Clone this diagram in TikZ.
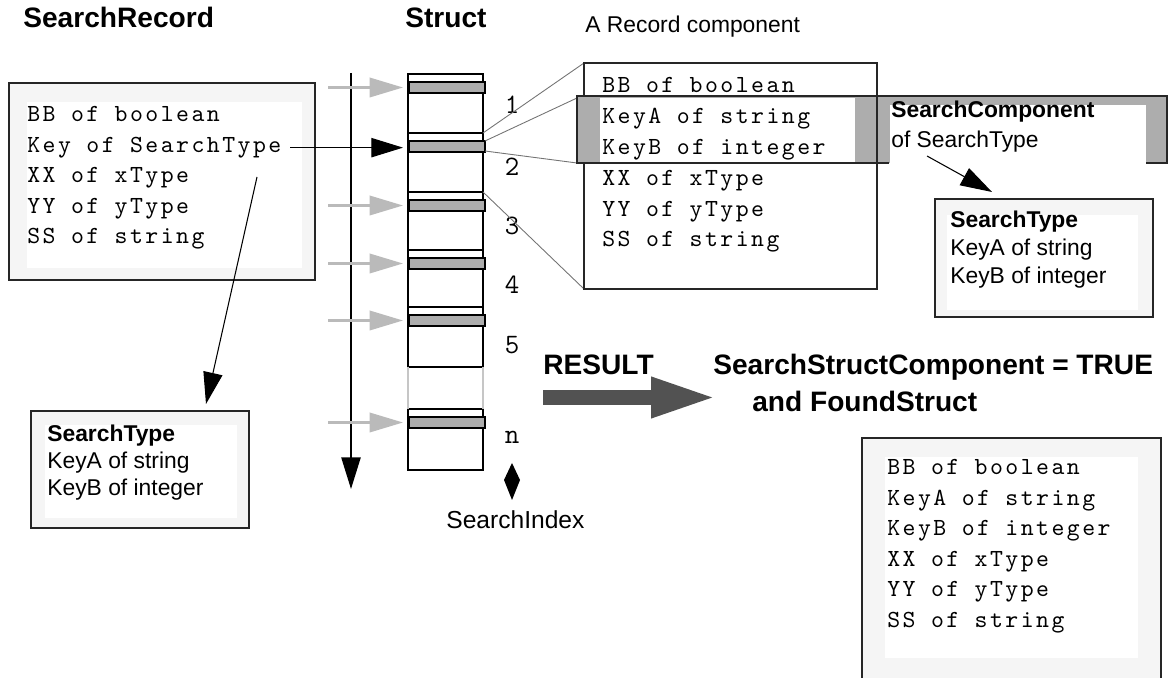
\documentclass[tikz,border=0pt]{standalone}
\usepackage{fontspec}
\setmainfont{Liberation Sans}
\newfontfamily\codefam{lmmono10-regular.otf}[LetterSpace=10]
\usepackage{tikz}
\usetikzlibrary{arrows.meta}

\newcommand\codefont{\codefam\fontsize{14}{16}\selectfont}
\newcommand\numfont{\ttfamily\fontsize{16}{18}\selectfont}
\newcommand\titlefont{\bfseries\fontsize{16}{19}\selectfont}
\newcommand\typefont{\fontsize{13}{15}\selectfont}
\newcommand\idxfont{\fontsize{14}{16}\selectfont}

\begin{document}
\begin{tikzpicture}[x=0.02cm, y=-0.02cm,
    frame/.style={draw=black!85, line width=0.9pt},
    code/.style={font=\codefont, anchor=base west, inner sep=0pt},
    typetxt/.style={font=\typefont, anchor=base west, inner sep=0pt},
    title/.style={font=\titlefont, anchor=base west, inner sep=0pt},
    bar/.style={draw, line width=0.8pt, fill=black!32},
    pointer/.style={black!27, line width=1.5pt, -{Triangle[length=19pt,width=11pt]}},
    blackptr/.style={line width=0.6pt, -{Triangle[length=18pt,width=11pt]}},
    zoomline/.style={black!55, line width=0.5pt}]
  \useasboundingbox (0,0) rectangle (1170,678);

  % --- 1. Titles ---
  \node[title] (recTitle) at (23,28) {SearchRecord};
  \node[title] (structTitle) at (405,28) {Struct};
  \node[typetxt] (compTitle) at (585,33) {A Record component};

  % --- 2. SearchRecord ---
  \draw[frame, fill=black!4] (9,83) rectangle (315,280);
  \fill[white] (27,102) rectangle (302,268);
  \foreach \txt [count=\i] in {BB of boolean, Key of SearchType, XX of xType, YY of yType, SS of string}
    \node[code] (rec\i) at (27,91.5+30.5*\i) {\txt};
  \coordinate (recFoot) at (257,177);

  % --- 3. Struct column ---
  \foreach \t/\b [count=\i] in {74/133, 133/192, 192/250, 250/307, 307/367, 409/470} {
    \draw[line width=0.8pt, fill=white] (408,\t) rectangle (483,\b);
    \draw[bar] (409,\t+8) rectangle (485,\t+19);
    \coordinate (bar\i) at (403,\t+13.5);
  }
  \draw[gray!45, line width=0.8pt] (408,367) -- (408,409) (483,367) -- (483,409);
  \foreach \lbl/\y [count=\i] in {1/105, 2/167, 3/226, 4/285, 5/345, n/437}
    \node[font=\numfont, inner sep=0pt] (num\i) at (512,\y) {\lbl};

  % scan direction and pointers
  \coordinate (scanTop) at (351,73);
  \coordinate (scanEnd) at (351,489);
  \draw[blackptr, line width=0.8pt] (scanTop) -- (scanEnd);
  \foreach \i in {1,3,4,5,6}
    \draw[pointer] (bar\i) ++(-75,0) -- (bar\i);
  \draw[blackptr] ([xshift=5pt]rec2.east) -- (bar2 |- rec2.east);

  % --- 4. Record component ---
  \coordinate (compNW) at (584,63);
  \coordinate (compSW) at (584,289);
  \coordinate (brkNW) at (577,98);
  \coordinate (brkSW) at (577,163);
  \draw[zoomline] (483,133) -- (compNW);
  \draw[zoomline] (485,141) -- (brkNW);
  \draw[zoomline] (485,151) -- (brkSW);
  \draw[zoomline] (483,192) -- (compSW);
  \draw[frame, fill=white] (compNW) rectangle (877,289);
  % SearchComponent bracket
  \fill[black!32] (577,96) rectangle (1167,163);
  \fill[white] (600,98) rectangle (855,162);
  \fill[white] (890,105) rectangle (1146,164);
  \draw[frame] (889,163) -- (577,163) -- (577,96) -- (1167,96) -- (1167,163) -- (1146,163);
  \draw[frame] (877,63) -- (877,289);
  \foreach \txt [count=\i] in {BB of boolean, KeyA of string, KeyB of integer, XX of xType, YY of yType, SS of string}
    \node[code] (comp\i) at (602,62.2+30.8*\i) {\txt};
  \node[typetxt, font=\typefont\bfseries] (scName) at (891,118) {SearchComponent};
  \node[typetxt] (scType) at (891,148) {of SearchType};

  % --- 5. SearchType boxes ---
  \draw[frame, fill=black!4] (935,199) rectangle (1153,317);
  \fill[white] (947,215) rectangle (1138,310);
  \node[typetxt, font=\typefont\bfseries] (stR1) at (950,228) {SearchType};
  \node[typetxt] (stR2) at (950,256) {KeyA of string};
  \node[typetxt] (stR3) at (950,284) {KeyB of integer};
  \coordinate (scFoot) at (927,156);
  \coordinate (stRTip) at (992,192);
  \draw[blackptr] (scFoot) -- (stRTip);

  \draw[frame, fill=black!4] (31,411) rectangle (249,528);
  \fill[white] (45,425) rectangle (237,518);
  \node[typetxt, font=\typefont\bfseries] (stL1) at (47,442) {SearchType};
  \node[typetxt] (stL2) at (47,469) {KeyA of string};
  \node[typetxt] (stL3) at (47,496) {KeyB of integer};
  \coordinate (stLTip) at (206,404);
  \draw[blackptr] (recFoot) -- (stLTip);

  % --- 6. Search index ---
  \node[typetxt, font=\idxfont] (idx) at (446,529) {SearchIndex};
  \coordinate (idxTip) at (512,463);
  \fill (idxTip) -- ++(8,17) -- ++(-8,20) -- ++(-8,-20) -- cycle;

  % --- 7. Result ---
  \node[title] (resLabel) at (543,375) {RESULT};
  \node[title] (resLine1) at (713,375) {SearchStructComponent = TRUE};
  \node[title] (resLine2) at (752,412) {and FoundStruct};
  \coordinate (resFrom) at (543,397.5);
  \coordinate (resTo) at (717,397.5);
  \draw[black!68, line width=8.5pt, -{Triangle[length=37.5pt,width=21pt]}] (resFrom) -- (resTo);

  \draw[frame, fill=black!4] (862,438) rectangle (1161,700);
  \fill[white] (885,457) rectangle (1138,658);
  \foreach \txt [count=\i] in {BB of boolean, KeyA of string, KeyB of integer, XX of xType, YY of yType, SS of string}
    \node[code] (found\i) at (887,444.5+30.5*\i) {\txt};
\end{tikzpicture}
\end{document}
